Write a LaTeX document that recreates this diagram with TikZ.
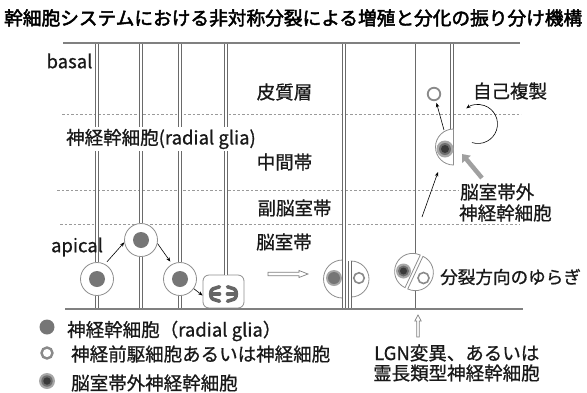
\documentclass[tikz,border=0pt]{standalone}
\usepackage{graphicx}
\usepackage{fontspec}
\setmainfont{Noto Sans CJK JP}
\newfontfamily\jpbold[FakeBold=2.5]{Noto Sans CJK JP}
\newfontfamily\jpmed[FakeBold=0.8]{Noto Sans CJK JP}
\usetikzlibrary{arrows.meta,calc}

\definecolor{linegray}{HTML}{808080}
\definecolor{fibergray}{HTML}{6A6A6A}
\definecolor{zonegray}{HTML}{9A9A9A}
\definecolor{cellgray}{HTML}{8E8E8E}
\definecolor{nucgray}{HTML}{767676}
\definecolor{halogray}{HTML}{A8A8A8}
\definecolor{midgray}{HTML}{6E6E6E}
\definecolor{coregray}{HTML}{3A3A3A}
\definecolor{hollowgray}{HTML}{8A8A8A}
\definecolor{chromgray}{HTML}{666666}
\definecolor{pointergray}{HTML}{A0A0A0}

\begin{document}
\begin{tikzpicture}[x=1pt,y=-1pt,
  fiber/.style={draw=fibergray, line width=0.7pt, double=white, double distance=2pt},
  boundary/.style={draw=linegray, line width=1.2pt},
  zone/.style={draw=zonegray, line width=0.8pt, dash pattern=on 2.5pt off 2pt},
  cell/.style={circle, draw=cellgray, line width=0.8pt, fill=white, inner sep=0pt, minimum size=33pt},
  nucleus/.style={circle, fill=nucgray, inner sep=0pt, minimum size=16pt},
  halfcell/.style={draw=cellgray, line width=0.8pt, fill=white},
  hollow/.style={circle, draw=hollowgray, line width=#1, fill=white, inner sep=0pt},
  dot/.style={circle, fill=#1, inner sep=0pt},
  chrom/.style={draw=chromgray, line width=3.6pt, line cap=round},
  pointer/.style={-{Stealth[length=4.5pt,width=3.5pt]}, line width=0.6pt, draw=black},
  openarrow/.style={draw=linegray, line width=0.7pt, fill=white},
  lbl/.style={font=\jpmed\fontsize{18.5}{20}\selectfont, inner sep=0pt, text=black!90},
]
\useasboundingbox (0,0) rectangle (587,392);

% title
\node[anchor=west, inner sep=0pt] (title) at (4,18)
  {\resizebox{578pt}{!}{\jpbold\fontsize{19}{21}\selectfont 幹細胞システムにおける非対称分裂による増殖と分化の振り分け機構}};

% zone boundaries
\coordinate (z1l) at (62,114);  \coordinate (z1r) at (521,114);
\coordinate (z2l) at (57,190);  \coordinate (z2r) at (522,190);
\coordinate (z3l) at (60,224);  \coordinate (z3r) at (520,224);
\draw[zone] (z1l) -- (z1r);
\draw[zone] (z2l) -- (z2r);
\draw[zone] (z3l) -- (z3r);

% interkinetic nuclear migration and division
\node[cell] (cA) at (97,279) {};
\node[nucleus] (nA) at (cA) {};
\node[cell] (cB) at (141,240) {};
\node[nucleus] (nB) at (cB) {};
\node[cell] (cC) at (180,279) {};
\node[nucleus] (nC) at (cC) {};
\node[draw=cellgray, line width=0.8pt, fill=white, rounded corners=6pt,
      minimum width=41pt, minimum height=33pt, inner sep=0pt] (cD) at (223.5,291.5) {};

% radial fibres of the apical cells
\coordinate (tA) at (97,43);   \coordinate (bA) at (97,309);
\coordinate (tB) at (141,43);  \coordinate (bB) at (141,309);
\coordinate (tC) at (180,43);  \coordinate (bC) at (180,309);
\coordinate (tD) at (226,43);
\draw[fiber] (tA) -- (cA);  \draw[fiber] (cA) -- (bA);
\draw[fiber] (tB) -- (cB);  \draw[fiber] (cB) -- (bB);
\draw[fiber] (tC) -- (cC);  \draw[fiber] (cC) -- (bC);
\draw[fiber] (tD) -- (tD |- cD.north);

% condensed chromosomes in anaphase
\draw[chrom] (219.5,286.8) -- (212.5,289);
\draw[chrom] (219.5,294) -- (210.8,294);
\draw[chrom] (219.5,301.2) -- (212.5,299);
\draw[chrom] (212.5,289) .. controls (210,291) and (210,297) .. (212.5,299);
\draw[chrom] (227.5,286.8) -- (234.5,289);
\draw[chrom] (227.5,294) -- (236.2,294);
\draw[chrom] (227.5,301.2) -- (234.5,299);
\draw[chrom] (234.5,289) .. controls (237,291) and (237,297) .. (234.5,299);

% nuclear movement
\draw[pointer, shorten <=3pt] (cA.62) -- (cB.188);
\draw[pointer, shorten >=3pt] (cB.-12) -- (cC.118);
\draw[pointer] (cC.-35) -- ([yshift=-4pt]cD.west);

% open arrow towards the outcomes
\draw[openarrow] (268,272.3) -- (299,272.3) -- (299,270.5) -- (308,274) -- (299,277.5)
  -- (299,275.7) -- (268,275.7) -- cycle;

% vertical cleavage: asymmetric division
\coordinate (tE) at (344,43);  \coordinate (bE) at (344,309);
\coordinate (tF) at (349.8,261); \coordinate (bF) at (349.8,309);
\draw[halfcell] (342.5,260) arc[start angle=-90, end angle=-270, radius=19] -- cycle;
\draw[halfcell] (351,261) arc[start angle=-90, end angle=90, radius=18] -- cycle;
\draw[fiber] (tE) -- (bE);
\draw[fiber] (tF) -- (bF);
\node[dot=halogray, minimum size=16pt] (nE) at (334,278) {};
\node[dot=nucgray, minimum size=12pt] (nE2) at (nE) {};
\node[hollow=1.6pt, minimum size=10.5pt] (nF) at (359,278) {};

% oblique cleavage
\coordinate (T) at (414,272);
\coordinate (tG) at (416.5,43);  \coordinate (mG) at (416.5,256);
\coordinate (uG) at (416.5,289); \coordinate (bG) at (416.5,309);
\draw[fiber] (tG) -- (mG);
\draw[fiber] (uG) -- (bG);
\draw[halfcell] ($(T)+(-155:1.5)$) ++(-65:18) arc[start angle=-65, end angle=-245, radius=18] -- cycle;
\draw[halfcell] ($(T)+(25:1.5)$) ++(115:18) arc[start angle=115, end angle=-65, radius=18] -- cycle;
\node[dot=halogray, minimum size=15pt] (nG) at (403.5,271) {};
\node[dot=midgray, minimum size=11pt] (nG2) at (nG) {};
\node[dot=coregray, minimum size=7pt] (nG3) at (nG) {};
\node[hollow=1.6pt, minimum size=11pt] (nH) at (423.5,278) {};

% outer radial glia in the intermediate zone
\coordinate (tO) at (452,43);  \coordinate (bO) at (452,130);
\draw[fiber] (tO) -- (bO);
\draw[halfcell] (453.5,129) arc[start angle=-90, end angle=-270, radius=18] -- cycle;
\node[dot=halogray, minimum size=17pt] (nO) at (445,149) {};
\node[dot=midgray, minimum size=12pt] (nO2) at (nO) {};
\node[dot=coregray, minimum size=8pt] (nO3) at (nO) {};
\node[hollow=1.8pt, minimum size=12.5pt] (nN) at (434,94) {};
\coordinate (oTop) at (444,130);
\draw[pointer, shorten >=2pt] (oTop) -- (nN);
\coordinate (mStart) at (422,217); \coordinate (mEnd) at (438,172);
\draw[pointer] (mStart) -- (mEnd);
% self-renewal loop
\coordinate (sc) at (478,124);
\draw[pointer] ($(sc)+(108:19.5)$) arc[start angle=108, end angle=-127, radius=19.5];
% thick grey pointer to the outer radial glia
\coordinate (gS) at (482,178); \coordinate (gE) at (462,154);
\draw[draw=pointergray, line width=4.5pt, -{Triangle[length=7pt,width=11pt]}] (gS) -- (gE);

% apical and basal surfaces
\draw[boundary] (63,43) -- (520,43);
\draw[boundary] (65,309) -- (523,309);

% open arrow from below
\draw[openarrow] (416.8,337) -- (416.8,321) -- (414.8,321) -- (418,315) -- (421.2,321)
  -- (419.2,321) -- (419.2,337) -- cycle;

% labels
\node[lbl] (lbasal) at (69.5,61) {basal};
\node[lbl] (lapical) at (77,247) {apical};
\node[lbl, fill=white, inner sep=1.5pt] (lrg) at (161,139) {神経幹細胞(radial glia)};
\node[lbl] (lcp) at (284.5,92) {皮質層};
\node[lbl] (liz) at (284.5,162) {中間帯};
\node[lbl] (lsvz) at (294.5,208) {副脳室帯};
\node[lbl] (lvz) at (284,242) {脳室帯};
\node[lbl] (lself) at (510,91) {自己複製};
\node[lbl, anchor=west, fill=white, inner sep=1pt] (lorg1) at (459,192) {脳室帯外};
\node[lbl, anchor=west] (lorg2) at (459,213) {神経幹細胞};
\node[lbl, anchor=west, font=\jpmed\fontsize{17.6}{19}\selectfont] (ltilt) at (440,277) {分裂方向のゆらぎ};
\node[lbl, anchor=west] (llgn1) at (374,353) {LGN変異、あるいは};
\node[lbl, anchor=west] (llgn2) at (373,373) {霊長類型神経幹細胞};

% legend
\node[dot=nucgray, minimum size=15pt] (k1) at (47,327) {};
\node[lbl, anchor=west] (k1t) at (67,331) {神経幹細胞（radial glia）};
\node[hollow=2.4pt, minimum size=11pt] (k2) at (47,353) {};
\node[lbl, anchor=west] (k2t) at (71,354) {神経前駆細胞あるいは神経細胞};
\node[dot=halogray, minimum size=16pt] (k3) at (47,381) {};
\node[dot=midgray, minimum size=11.5pt] (k3b) at (k3) {};
\node[dot=coregray, minimum size=7.5pt] (k3c) at (k3) {};
\node[lbl, anchor=west] (k3t) at (71,383) {脳室帯外神経幹細胞};
\end{tikzpicture}
\end{document}
